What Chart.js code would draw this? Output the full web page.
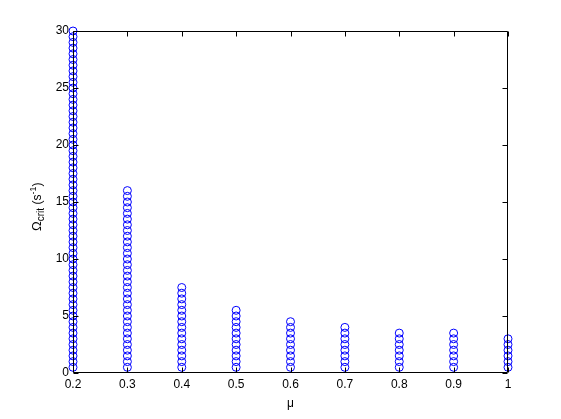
<!DOCTYPE html>
<html>
<head>
<meta charset="utf-8">
<script src="https://cdn.jsdelivr.net/npm/chart.js@4.4.1/dist/chart.umd.min.js"></script>
<style>
html,body{margin:0;padding:0;background:#fff;}
#wrap{width:561px;height:419px;position:relative;}
</style>
</head>
<body>
<div id="wrap"><canvas id="c" width="561" height="419"></canvas></div>
<script>
// mu categories (x positions of each column)
const muValues = [0.2, 0.3, 0.4, 0.5, 0.6, 0.7, 0.8, 0.9, 1.0];
const xTickLabels = ["0.2","0.3","0.4","0.5","0.6","0.7","0.8","0.9","1"];
const yTickValues = [0, 5, 10, 15, 20, 25, 30];

// Omega_crit values found for each mu
const omegaMu02 = [0.5,1,1.5,2,2.5,3,3.5,4,4.5,5,5.5,6,6.5,7,7.5,8,8.5,9,9.5,10,
  10.5,11,11.5,12,12.5,13,13.5,14,14.5,15,15.5,16,16.5,17,17.5,18,18.5,19,19.5,20,
  20.5,21,21.5,22,22.5,23,23.5,24,24.5,25,25.5,26,26.5,27,27.5,28,28.5,29,29.5,30];
const omegaMu03 = [0.5,1,1.5,2,2.5,3,3.5,4,4.5,5,5.5,6,6.5,7,7.5,8,8.5,9,9.5,10,
  10.5,11,11.5,12,12.5,13,13.5,14,14.5,15,15.5,16];
const omegaMu04 = [0.5,1,1.5,2,2.5,3,3.5,4,4.5,5,5.5,6,6.5,7,7.5];
const omegaMu05 = [0.5,1,1.5,2,2.5,3,3.5,4,4.5,5,5.5];
const omegaMu06 = [0.5,1,1.5,2,2.5,3,3.5,4,4.5];
const omegaMu07 = [0.5,1,1.5,2,2.5,3,3.5,4];
const omegaMu08 = [0.5,1,1.5,2,2.5,3,3.5];
const omegaMu09 = [0.5,1,1.5,2,2.5,3,3.5];
const omegaMu10 = [0.5,1,1.5,2,2.5,3];

const columns = [omegaMu02, omegaMu03, omegaMu04, omegaMu05, omegaMu06, omegaMu07, omegaMu08, omegaMu09, omegaMu10];
const points = [];
columns.forEach((col, i) => col.forEach(v => points.push({x: muValues[i], y: v})));

const FONT = "'Liberation Sans', Arial, Helvetica, sans-serif";
const AREA = {left: 73, top: 31, right: 508, bottom: 373};

const boxPlugin = {
  id: 'matlabBox',
  afterDraw(chart) {
    const ctx = chart.ctx;
    const ca = chart.chartArea;
    const xs = chart.scales.x, ys = chart.scales.y;
    ctx.save();
    ctx.strokeStyle = '#000';
    ctx.lineWidth = 1;
    const L = Math.round(ca.left) + 0.5, R = Math.round(ca.right) - 0.5;
    const T = Math.round(ca.top) + 0.5, B = Math.round(ca.bottom) - 0.5;
    ctx.beginPath();
    ctx.rect(L, T, R - L, B - T);
    const tl = 5;
    xs.ticks.forEach(t => {
      const px = Math.round(xs.getPixelForValue(t.value)) + 0.5;
      ctx.moveTo(px, B); ctx.lineTo(px, B - tl);
      ctx.moveTo(px, T); ctx.lineTo(px, T + tl);
    });
    ys.ticks.forEach(t => {
      const py = Math.round(ys.getPixelForValue(t.value)) + 0.5;
      ctx.moveTo(L, py); ctx.lineTo(L + tl, py);
      ctx.moveTo(R, py); ctx.lineTo(R - tl, py);
    });
    ctx.stroke();

    // y-axis title: Omega_crit (s^-1)
    ctx.fillStyle = '#000';
    ctx.translate(41, 231);
    ctx.rotate(-Math.PI / 2);
    ctx.textBaseline = 'alphabetic';
    ctx.textAlign = 'left';
    let x = 0;
    ctx.font = '13px ' + FONT;
    ctx.fillText('\u03A9', x, 0); x += ctx.measureText('\u03A9').width;
    ctx.font = '10px ' + FONT;
    ctx.fillText('crit', x, 3); x += ctx.measureText('crit').width;
    ctx.font = '12px ' + FONT;
    ctx.fillText(' (s', x, 0); x += ctx.measureText(' (s').width;
    ctx.font = '9px ' + FONT;
    ctx.fillText('-1', x, -5); x += ctx.measureText('-1').width;
    ctx.font = '12px ' + FONT;
    ctx.fillText(')', x, 0);
    ctx.restore();

    // x-axis title
    ctx.save();
    ctx.fillStyle = '#000';
    ctx.font = '12px ' + FONT;
    ctx.textAlign = 'center';
    ctx.textBaseline = 'middle';
    ctx.fillText('\u03BC', (ca.left + ca.right) / 2, 404);
    ctx.restore();
  }
};

new Chart(document.getElementById('c'), {
  type: 'scatter',
  data: {
    datasets: [{
      data: points,
      pointStyle: 'circle',
      pointRadius: 4,
      pointHoverRadius: 4,
      borderColor: '#0000ff',
      backgroundColor: 'rgba(0,0,0,0)',
      pointBorderWidth: 1,
      borderWidth: 1,
      clip: false
    }]
  },
  options: {
    responsive: false,
    animation: false,
    events: [],
    layout: {padding: {left: 0, top: AREA.top, right: 561 - AREA.right, bottom: 0}},
    plugins: {legend: {display: false}, tooltip: {enabled: false}},
    scales: {
      x: {
        type: 'linear', min: 0.2, max: 1.0,
        afterBuildTicks: s => { s.ticks = muValues.map(v => ({value: v})); },
        afterFit: s => { s.height = 419 - AREA.bottom; },
        grid: {display: false, drawTicks: false},
        border: {display: false},
        ticks: {
          color: '#000', font: {family: FONT, size: 12}, padding: 4, maxRotation: 0,
          callback: (v, i) => xTickLabels[i]
        }
      },
      y: {
        type: 'linear', min: 0, max: 30,
        afterBuildTicks: s => { s.ticks = yTickValues.map(v => ({value: v})); },
        afterFit: s => { s.width = AREA.left; },
        grid: {display: false, drawTicks: false},
        border: {display: false},
        ticks: {color: '#000', font: {family: FONT, size: 12}, padding: 4,
          callback: v => String(v)}
      }
    }
  },
  plugins: [boxPlugin]
});
</script>
</body>
</html>
